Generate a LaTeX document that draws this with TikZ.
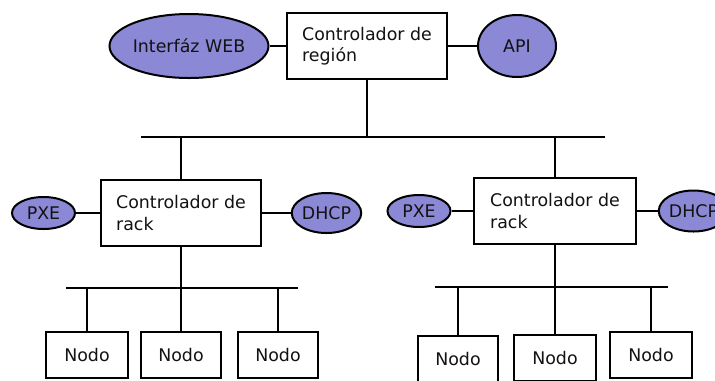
\documentclass[tikz,border=0pt]{standalone}
\usepackage{fontspec}
\setmainfont{DejaVu Sans}
\usetikzlibrary{shapes.geometric}
\definecolor{svc}{RGB}{139,136,214}
\definecolor{ink}{RGB}{18,18,18}
\tikzset{
  wire/.style={line width=2bp, draw=black},
  ctrl/.style={draw=black, line width=2bp, fill=white, rectangle, align=left,
    inner sep=0pt, text=ink, font=\fontsize{17.4bp}{21.5bp}\selectfont},
  nodebox/.style={draw=black, line width=2bp, fill=white, rectangle,
    inner sep=0pt, text=ink, font=\fontsize{17.4bp}{21.5bp}\selectfont},
  svcnode/.style={draw=black, line width=2bp, fill=svc, ellipse,
    inner sep=0pt, text=ink, font=\fontsize{17.4bp}{21.5bp}\selectfont},
}
\begin{document}
\begin{tikzpicture}[x=1bp, y=-1bp]
\clip (0,0) rectangle (715,380);

% region controller with its services
\node[ctrl, minimum width=160bp, minimum height=66bp] (region) at (367,46) {Controlador de\\región};
\node[svcnode, minimum width=136bp, minimum height=64bp] (web) at (189,46) {Interfáz WEB};
\node[svcnode, minimum width=78bp, minimum height=62bp] (api) at (517,46) {API};

% rack controllers
\node[ctrl, minimum width=160bp, minimum height=66bp] (rackA) at (181,213) {Controlador de\\rack};
\node[svcnode, minimum width=63bp, minimum height=32bp] (pxeA) at (43.5,213) {PXE};
\node[svcnode, minimum width=67bp, minimum height=40bp] (dhcpA) at (326.5,213) {DHCP};

\node[ctrl, minimum width=162bp, minimum height=66bp] (rackB) at (555,211) {Controlador de\\rack};
\node[svcnode, minimum width=63bp, minimum height=32bp] (pxeB) at (419,211) {PXE};
\node[svcnode, minimum width=67bp, minimum height=41bp] (dhcpB) at (693.5,211) {DHCP};

% machines
\node[nodebox, minimum width=82bp, minimum height=46bp] (a1) at (87,355) {Nodo};
\node[nodebox, minimum width=80bp, minimum height=46bp] (a2) at (181,355) {Nodo};
\node[nodebox, minimum width=80bp, minimum height=46bp] (a3) at (278,355) {Nodo};

\node[nodebox, minimum width=80bp, minimum height=46bp] (b1) at (458,359) {Nodo};
\node[nodebox, minimum width=82bp, minimum height=46bp] (b2) at (555,358) {Nodo};
\node[nodebox, minimum width=82bp, minimum height=46bp] (b3) at (651,355) {Nodo};

% bus end points
\coordinate (topL) at (141,137);
\coordinate (topR) at (605,137);
\coordinate (busAL) at (66,288);
\coordinate (busAR) at (298,288);
\coordinate (busBL) at (435,287);
\coordinate (busBR) at (668,287);

% service links
\draw[wire] (web) -- (region);
\draw[wire] (region) -- (api);
\draw[wire] (pxeA) -- (rackA);
\draw[wire] (rackA) -- (dhcpA);
\draw[wire] (pxeB) -- (rackB);
\draw[wire] (rackB) -- (dhcpB);

% main bus
\draw[wire] (topL) -- (topR);
\draw[wire] (region.south) -- (region.south |- topL);
\draw[wire] (rackA.north) -- (rackA.north |- topL);
\draw[wire] (rackB.north) -- (rackB.north |- topL);

% rack buses
\draw[wire] (busAL) -- (busAR);
\draw[wire] (rackA.south) -- (rackA.south |- busAL);
\foreach \n in {a1,a2,a3} \draw[wire] (\n.north) -- (\n.north |- busAL);

\draw[wire] (busBL) -- (busBR);
\draw[wire] (rackB.south) -- (rackB.south |- busBL);
\foreach \n in {b1,b2,b3} \draw[wire] (\n.north) -- (\n.north |- busBL);
\end{tikzpicture}
\end{document}
